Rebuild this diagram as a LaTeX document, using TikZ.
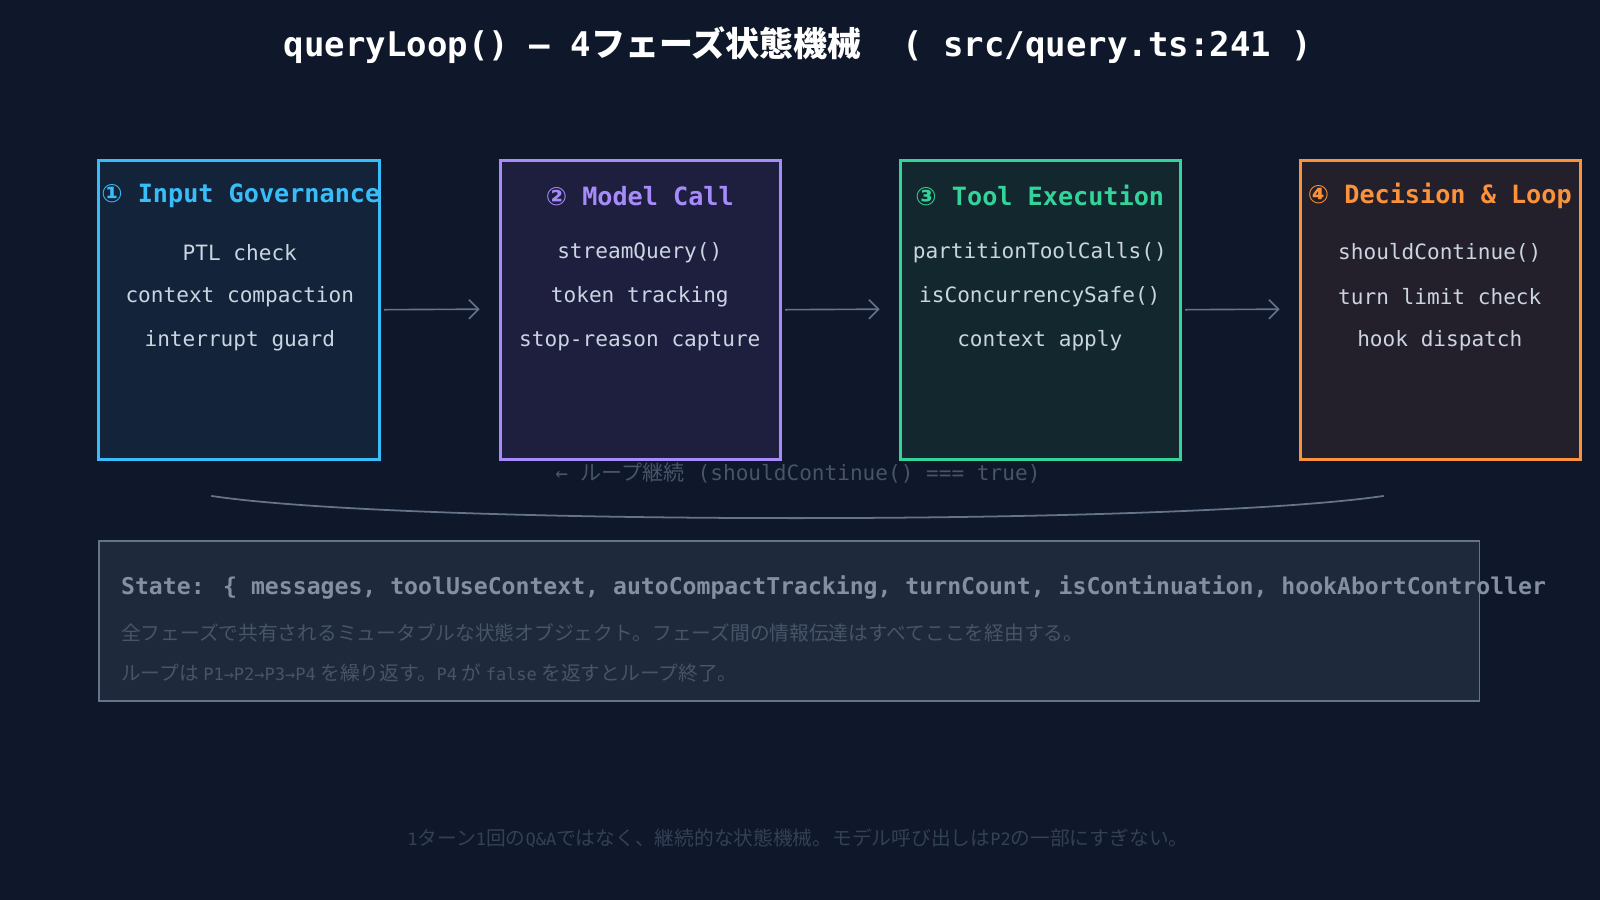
\documentclass[tikz,border=0pt]{standalone}
\usepackage{fontspec}
\usetikzlibrary{arrows.meta}
\setmainfont{DejaVu Sans Mono}
\newfontfamily\jp{Noto Sans CJK JP}
\newfontfamily\mono{DejaVu Sans Mono}
\newfontfamily\sym{DejaVu Sans}
\definecolor{bg}{HTML}{0F172A}
\definecolor{cA}{HTML}{38BDF8}\definecolor{fA}{HTML}{12233A}
\definecolor{cB}{HTML}{A78BFA}\definecolor{fB}{HTML}{1E1F3E}
\definecolor{cC}{HTML}{34D399}\definecolor{fC}{HTML}{13272F}
\definecolor{cD}{HTML}{FB923C}\definecolor{fD}{HTML}{231F2B}
\definecolor{txt}{HTML}{CBD5E1}
\definecolor{gr}{HTML}{64748B}
\definecolor{dg}{HTML}{475569}
\definecolor{ddg}{HTML}{334155}
\definecolor{sf}{HTML}{1E293B}
\begin{document}
\begin{tikzpicture}[x=0.75pt,y=-0.75pt,
 phase/.style={draw=#1,line width=2.2pt,minimum width=275*0.75pt,minimum height=293*0.75pt,inner sep=0},
 ttl/.style={font=\fontsize{18.5}{21}\selectfont\bfseries,anchor=center},
 ln/.style={text=txt,font=\fontsize{15.5}{17}\selectfont},
 arr/.style={draw=gr,line width=1.2pt,-{Straight Barb[length=7pt]}}]
\fill[bg] (0,0) rectangle (1568,882);
\useasboundingbox (0,0) rectangle (1568,882);
\node[text=white,font=\fontsize{25}{28}\selectfont\bfseries] (title) at (782,44) {queryLoop() — 4{\jp フェーズ状態機械}\ \ ( src/query.ts:241 )};
\foreach \n/\x/\c/\f in {a/234.5/cA/fA,b/627.5/cB/fB,c/1019.5/cC/fC,d/1411.5/cD/fD}{
 \node[phase=\c,fill=\f] (\n) at (\x,303.5) {};}
\node[ttl,text=cA] (ta) at (236,192) {{\sym ①} Input Governance};
\node[ttl,text=cB] (tb) at (627,192) {{\sym ②} Model Call};
\node[ttl,text=cC] (tc) at (1019,192) {{\sym ③} Tool Execution};
\node[ttl,text=cD] (td) at (1411,192) {{\sym ④} Decision \& Loop};
\node[ln] (a1) at (235,248) {PTL check};
\node[ln] (a2) at (235,291) {context compaction};
\node[ln] (a3) at (235,334) {interrupt guard};
\node[ln] (b1) at (627,248) {streamQuery()};
\node[ln] (b2) at (627,291) {token tracking};
\node[ln] (b3) at (627,334) {stop-reason capture};
\node[ln] (c1) at (1019,248) {partitionToolCalls()};
\node[ln] (c2) at (1019,291) {isConcurrencySafe()};
\node[ln] (c3) at (1019,334) {context apply};
\node[ln] (d1) at (1411,248) {shouldContinue()};
\node[ln] (d2) at (1411,291) {turn limit check};
\node[ln] (d3) at (1411,334) {hook dispatch};
\draw[arr] (a.east) ++(3,0) coordinate (s1) -- (470,303);
\draw[arr] (b.east) ++(3,0) -- (862,303);
\draw[arr] (c.east) ++(3,0) -- (1254,303);
\node[text=dg,font=\fontsize{15.5}{17}\selectfont] (loop) at (782,464) {← {\jp ループ継続} (shouldContinue() === true)};
\coordinate (l1) at (207,486); \coordinate (l2) at (1356,486);
\draw[gr,line width=1.3pt] (l1) .. controls (400,515) and (1160,515) .. (l2);
\node[draw=gr,line width=1.3pt,fill=sf,minimum width=1353*0.75pt,minimum height=157*0.75pt] (state) at (773.5,608.5) {};
\node[anchor=west,text=gr!80!white,font=\fontsize{17}{19}\selectfont\bfseries] (s1t) at (114,576) {State: \{ messages, toolUseContext, autoCompactTracking, turnCount, isContinuation, hookAbortController};
\node[anchor=west,text=dg,font=\jp\fontsize{14.5}{17}\selectfont] (s2t) at (114,620) {全フェーズで共有されるミュータブルな状態オブジェクト。フェーズ間の情報伝達はすべてここを経由する。};
\node[anchor=west,text=dg,font=\jp\fontsize{14.5}{17}\selectfont] (s3t) at (114,660) {ループは {\mono\fontsize{12.5}{15}\selectfont P1→P2→P3→P4} を繰り返す。{\mono\fontsize{12.5}{15}\selectfont P4} が {\mono\fontsize{12.5}{15}\selectfont false} を返すとループ終了。};
\node[text=ddg,font=\jp\fontsize{14.5}{17}\selectfont] (foot) at (782,821) {{\mono\fontsize{12.5}{15}\selectfont 1}ターン{\mono\fontsize{12.5}{15}\selectfont 1}回の{\mono\fontsize{12.5}{15}\selectfont Q\&A}ではなく、継続的な状態機械。モデル呼び出しは{\mono\fontsize{12.5}{15}\selectfont P2}の一部にすぎない。};
\end{tikzpicture}
\end{document}
